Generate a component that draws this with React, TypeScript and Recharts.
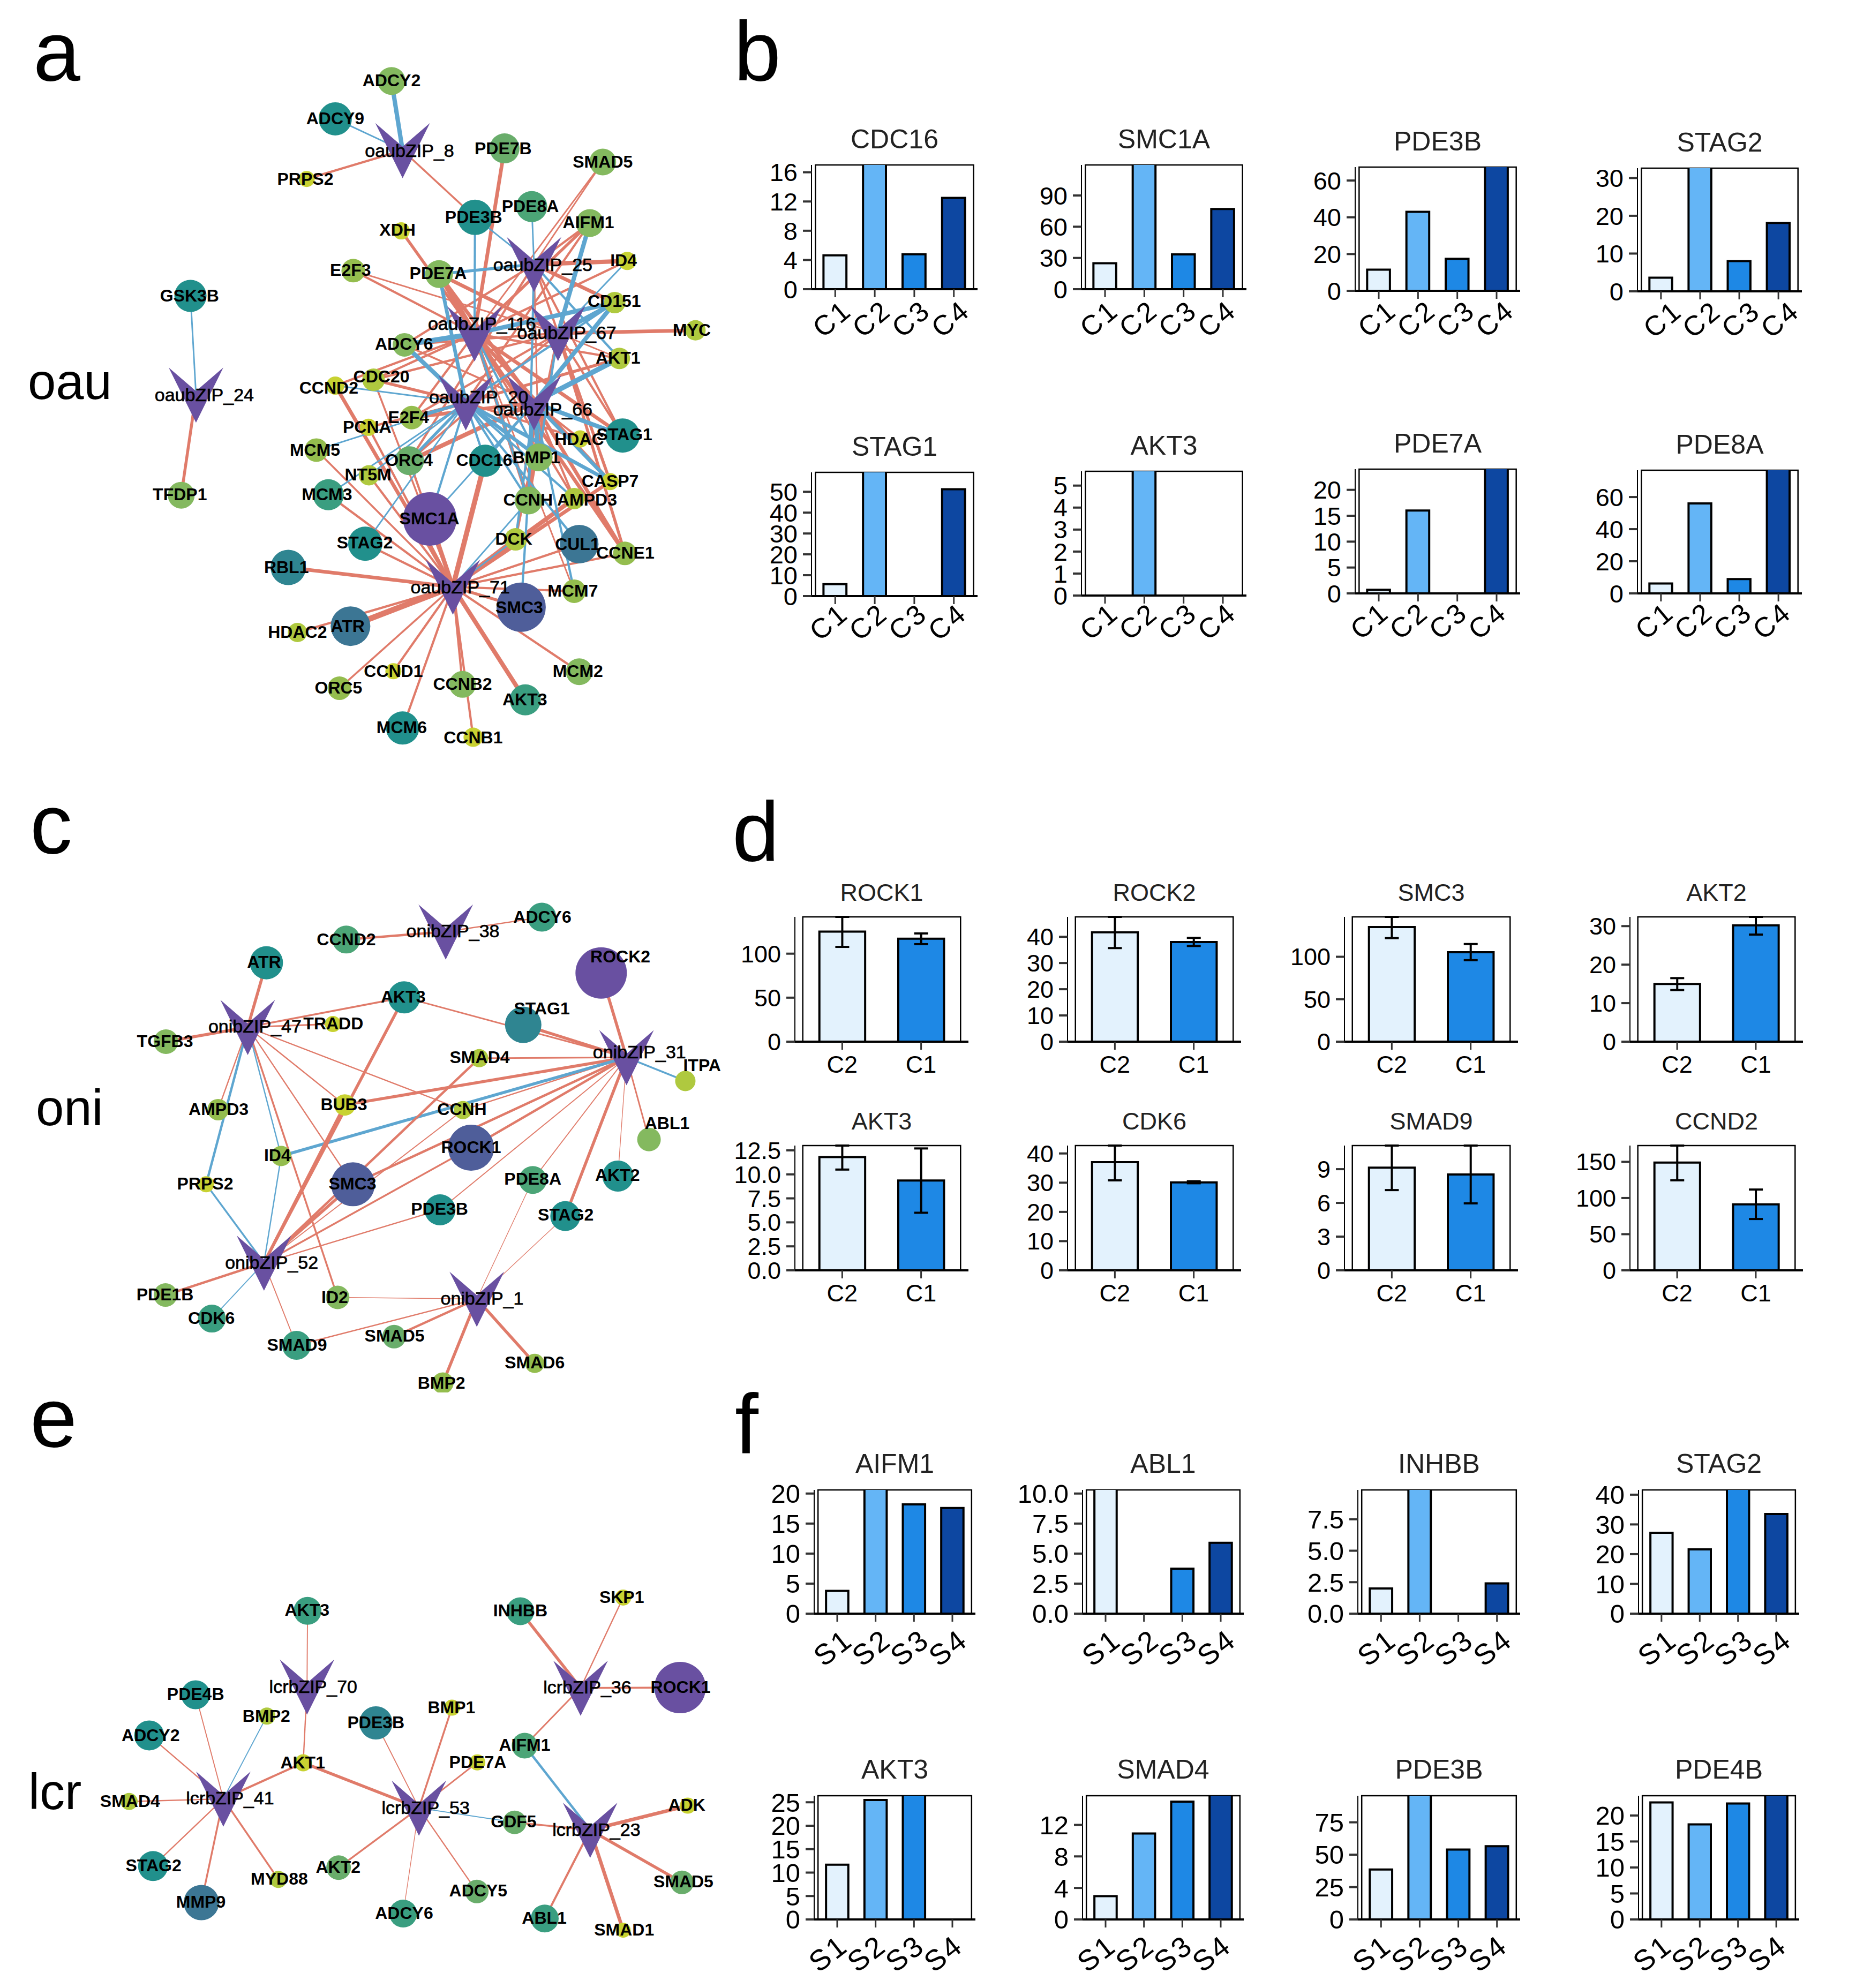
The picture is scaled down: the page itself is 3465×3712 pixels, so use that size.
import React from 'react';
import { BarChart, Bar, Cell, XAxis, YAxis, ReferenceArea, ErrorBar, ScatterChart, Scatter } from 'recharts';

const FONT = '"Liberation Sans", Arial, sans-serif';
const RED = '#e07b6a';
const BLUE = '#5ea6d0';
const PURPLE = '#6950a1';
// node shades, small degree to large degree
const SHADES = ['#c8d232', '#afc93f', '#94bd4e', '#84b95f', '#69ad6b', '#4ca577', '#3a9e80', '#21908c', '#2f8591', '#3c7694', '#4f5e9a', '#6950a1'];
const BLUES4 = ['#e3f2fd', '#64b5f6', '#1e88e5', '#0d47a1'];
const BLUES2 = ['#e3f2fd', '#1e88e5'];

type Gene = [string, number, number, number, number, number, number];
type Tf = [string, number, number, number, number];
type Edge = [string, string, number, string];

// ---- network a (layout units 0-1568 on both axes)
const oauTfs: Tf[] = [
  ['oaubZIP_8', 873, 310, 888, 310], ['oaubZIP_25', 1158, 545, 1177, 545], ['oaubZIP_116', 1029, 688, 1045, 667],
  ['oaubZIP_67', 1210, 687, 1229, 686], ['oaubZIP_20', 1010, 830, 1038, 818], ['oaubZIP_66', 1158, 830, 1177, 844],
  ['oaubZIP_71', 982, 1210, 998, 1210], ['oaubZIP_24', 425, 814, 443, 814],
];
const oauGenes: Gene[] = [
  ['ADCY2', 849, 167, 26, 3, 849, 166], ['ADCY9', 727, 245, 31, 7, 727, 244], ['PRPS2', 665, 369, 15, 0, 662, 369],
  ['PDE7B', 1094, 306, 28, 4, 1091, 306], ['SMAD5', 1307, 334, 25, 3, 1307, 333], ['PDE8A', 1153, 426, 29, 5, 1150, 425],
  ['PDE3B', 1030, 448, 33, 7, 1027, 447], ['XDH', 870, 476, 16, 0, 862, 474], ['AIFM1', 1279, 460, 26, 3, 1276, 458],
  ['E2F3', 766, 558, 22, 2, 760, 556], ['PDE7A', 952, 565, 26, 3, 950, 563], ['ID4', 1360, 538, 17, 0, 1352, 537],
  ['CD151', 1333, 624, 20, 1, 1332, 621], ['MYC', 1508, 681, 19, 1, 1500, 680], ['ADCY6', 877, 711, 22, 3, 876, 709],
  ['AKT1', 1343, 739, 20, 1, 1340, 738], ['CDC20', 810, 783, 21, 1, 827, 776], ['CCND2', 727, 795, 17, 0, 713, 799],
  ['PCNA', 799, 881, 16, 0, 796, 880], ['E2F4', 893, 861, 22, 2, 886, 860], ['MCM5', 686, 928, 22, 2, 683, 928],
  ['ORC4', 888, 950, 27, 4, 887, 948], ['NT5M', 800, 980, 19, 1, 798, 978], ['CDC16', 1052, 950, 30, 7, 1050, 948],
  ['BMP1', 1168, 943, 26, 3, 1163, 943], ['HDAC', 1258, 905, 16, 0, 1256, 905], ['STAG1', 1350, 898, 32, 7, 1354, 896],
  ['MCM3', 712, 1020, 29, 6, 709, 1019], ['CASP7', 1323, 993, 16, 0, 1323, 992], ['CCNH', 1146, 1032, 26, 3, 1145, 1030],
  ['AMPD3', 1245, 1028, 20, 1, 1273, 1030], ['SMC1A', 932, 1070, 50, 11, 931, 1069], ['STAG2', 792, 1121, 32, 7, 791, 1119],
  ['DCK', 1118, 1112, 21, 1, 1114, 1111], ['CUL1', 1256, 1122, 36, 9, 1252, 1122], ['CCNE1', 1355, 1141, 22, 2, 1356, 1140],
  ['RBL1', 625, 1170, 33, 8, 621, 1169], ['SMC3', 1130, 1252, 46, 10, 1126, 1252], ['MCM7', 1245, 1219, 22, 2, 1242, 1218],
  ['ATR', 760, 1291, 37, 9, 754, 1291], ['HDAC2', 645, 1304, 18, 1, 645, 1303], ['CCND1', 853, 1384, 15, 0, 853, 1384],
  ['ORC5', 736, 1419, 22, 2, 734, 1418], ['CCNB2', 1003, 1411, 25, 3, 1003, 1410], ['MCM2', 1256, 1385, 25, 3, 1253, 1384],
  ['AKT3', 1139, 1443, 29, 6, 1138, 1442], ['MCM6', 873, 1501, 31, 7, 871, 1500], ['CCNB1', 1026, 1520, 18, 0, 1026, 1520],
  ['GSK3B', 413, 610, 30, 7, 411, 609], ['TFDP1', 393, 1021, 25, 3, 390, 1019],
];
const oauEdges: Edge[] = [
  ['oaubZIP_24', 'GSK3B', 2, 'b'], ['oaubZIP_24', 'TFDP1', 4, 'r'],
  ['oaubZIP_8', 'ADCY2', 6, 'b'], ['oaubZIP_8', 'ADCY9', 2, 'b'], ['oaubZIP_8', 'PRPS2', 3, 'r'], ['oaubZIP_8', 'PDE3B', 2.5, 'r'],
  ['oaubZIP_71', 'SMC1A', 6, 'r'], ['oaubZIP_71', 'RBL1', 5, 'r'], ['oaubZIP_71', 'ATR', 8, 'r'], ['oaubZIP_71', 'HDAC2', 3, 'r'],
  ['oaubZIP_71', 'CCND1', 3, 'r'], ['oaubZIP_71', 'ORC5', 2.5, 'r'], ['oaubZIP_71', 'CCNB2', 3, 'r'], ['oaubZIP_71', 'MCM6', 3, 'r'],
  ['oaubZIP_71', 'CCNB1', 3, 'r'], ['oaubZIP_71', 'AKT3', 6, 'r'], ['oaubZIP_71', 'MCM2', 3, 'r'], ['oaubZIP_71', 'SMC3', 4, 'r'],
  ['oaubZIP_71', 'MCM7', 3, 'r'], ['oaubZIP_71', 'CCNE1', 3, 'r'], ['oaubZIP_71', 'CUL1', 3, 'r'], ['oaubZIP_71', 'AMPD3', 6, 'r'],
  ['oaubZIP_71', 'DCK', 7, 'r'], ['oaubZIP_71', 'CDC16', 7, 'r'], ['oaubZIP_71', 'STAG2', 3, 'r'], ['oaubZIP_71', 'MCM3', 3, 'r'],
  ['oaubZIP_71', 'MCM5', 2.5, 'r'], ['oaubZIP_71', 'NT5M', 3, 'r'], ['oaubZIP_71', 'CCND2', 5, 'r'], ['oaubZIP_71', 'PCNA', 3, 'r'],
  ['oaubZIP_71', 'CDC20', 2.5, 'r'], ['oaubZIP_71', 'CASP7', 5, 'r'], ['oaubZIP_71', 'ORC4', 3, 'r'], ['oaubZIP_71', 'CCNH', 2, 'b'],
  ['oaubZIP_116', 'PDE7B', 5, 'r'], ['oaubZIP_116', 'XDH', 4, 'r'], ['oaubZIP_116', 'E2F3', 3, 'r'], ['oaubZIP_116', 'AIFM1', 4, 'r'],
  ['oaubZIP_116', 'PDE7A', 7, 'r'], ['oaubZIP_116', 'CDC20', 3, 'r'], ['oaubZIP_116', 'CCND2', 3, 'r'], ['oaubZIP_116', 'AKT1', 3, 'r'],
  ['oaubZIP_116', 'STAG1', 5, 'r'], ['oaubZIP_116', 'CASP7', 5, 'r'], ['oaubZIP_116', 'CCNE1', 5, 'r'], ['oaubZIP_116', 'ID4', 3, 'r'],
  ['oaubZIP_116', 'AMPD3', 3, 'r'], ['oaubZIP_116', 'SMAD5', 2, 'r'], ['oaubZIP_116', 'E2F4', 3, 'r'], ['oaubZIP_116', 'CCNH', 5, 'r'], ['oaubZIP_116', 'MCM7', 2, 'r'],
  ['oaubZIP_67', 'MYC', 5, 'r'], ['oaubZIP_67', 'AKT1', 2, 'r'], ['oaubZIP_67', 'ADCY6', 3, 'r'], ['oaubZIP_67', 'CDC20', 3, 'r'],
  ['oaubZIP_67', 'CASP7', 4, 'r'], ['oaubZIP_67', 'CCNE1', 4, 'r'], ['oaubZIP_67', 'STAG1', 3, 'r'], ['oaubZIP_67', 'PDE7A', 5, 'r'],
  ['oaubZIP_67', 'E2F4', 3, 'r'], ['oaubZIP_67', 'ORC4', 3, 'r'], ['oaubZIP_67', 'E2F3', 2, 'r'], ['oaubZIP_67', 'CCNH', 4, 'r'], ['oaubZIP_67', 'DCK', 3, 'r'],
  ['oaubZIP_25', 'AIFM1', 3, 'r'], ['oaubZIP_25', 'ID4', 6, 'r'], ['oaubZIP_25', 'CD151', 5, 'r'], ['oaubZIP_25', 'SMAD5', 2, 'r'],
  ['oaubZIP_25', 'ADCY6', 3, 'r'], ['oaubZIP_25', 'STAG1', 3, 'r'], ['oaubZIP_25', 'CASP7', 3, 'r'], ['oaubZIP_25', 'BMP1', 2, 'r'], ['oaubZIP_25', 'ORC4', 3, 'r'],
  ['oaubZIP_20', 'CDC20', 4, 'r'], ['oaubZIP_20', 'PCNA', 3, 'r'], ['oaubZIP_20', 'HDAC', 3, 'r'], ['oaubZIP_20', 'E2F4', 5, 'r'], ['oaubZIP_20', 'AIFM1', 3, 'r'], ['oaubZIP_20', 'AKT1', 4, 'r'],
  ['oaubZIP_66', 'ORC4', 6, 'r'], ['oaubZIP_66', 'E2F4', 5, 'r'], ['oaubZIP_66', 'CCNH', 6, 'r'], ['oaubZIP_66', 'AMPD3', 3, 'r'],
  ['oaubZIP_66', 'CCNE1', 5, 'r'], ['oaubZIP_66', 'HDAC', 3, 'r'], ['oaubZIP_66', 'ADCY6', 2.5, 'r'], ['oaubZIP_66', 'CD151', 3, 'r'], ['oaubZIP_66', 'PDE7A', 5, 'r'],
  ['oaubZIP_25', 'PDE3B', 2, 'b'], ['oaubZIP_25', 'PDE8A', 2, 'b'], ['oaubZIP_25', 'PDE7A', 4, 'b'], ['oaubZIP_25', 'AKT1', 3, 'b'], ['oaubZIP_25', 'CCNH', 3, 'b'],
  ['oaubZIP_116', 'PDE3B', 3, 'b'], ['oaubZIP_116', 'ADCY6', 7, 'b'], ['oaubZIP_116', 'CD151', 6, 'b'], ['oaubZIP_116', 'BMP1', 3, 'b'], ['oaubZIP_116', 'CCNH', 3, 'b'],
  ['oaubZIP_67', 'AIFM1', 6, 'b'], ['oaubZIP_67', 'ID4', 2, 'b'], ['oaubZIP_67', 'CD151', 6, 'b'], ['oaubZIP_67', 'BMP1', 3, 'b'],
  ['oaubZIP_20', 'PDE7A', 5, 'b'], ['oaubZIP_20', 'ADCY6', 6, 'b'], ['oaubZIP_20', 'CCND2', 2, 'b'], ['oaubZIP_20', 'E2F4', 4, 'b'], ['oaubZIP_20', 'CD151', 3, 'b'],
  ['oaubZIP_20', 'MCM5', 2, 'b'], ['oaubZIP_20', 'ORC4', 4, 'b'], ['oaubZIP_20', 'NT5M', 2, 'b'], ['oaubZIP_20', 'MCM3', 2, 'b'],
  ['oaubZIP_20', 'STAG2', 2, 'b'], ['oaubZIP_20', 'SMC1A', 3, 'b'], ['oaubZIP_20', 'CDC16', 3, 'b'], ['oaubZIP_20', 'BMP1', 5, 'b'],
  ['oaubZIP_20', 'CCNH', 3, 'b'], ['oaubZIP_20', 'CASP7', 5, 'b'], ['oaubZIP_20', 'AMPD3', 3, 'b'], ['oaubZIP_20', 'CUL1', 3, 'b'],
  ['oaubZIP_66', 'AKT1', 7, 'b'], ['oaubZIP_66', 'CD151', 6, 'b'], ['oaubZIP_66', 'STAG1', 6, 'b'], ['oaubZIP_66', 'CASP7', 5, 'b'],
  ['oaubZIP_66', 'BMP1', 6, 'b'], ['oaubZIP_66', 'DCK', 3, 'b'], ['oaubZIP_66', 'MCM7', 3, 'b'], ['oaubZIP_66', 'SMC3', 3, 'b'],
  ['oaubZIP_66', 'CDC16', 3, 'b'], ['oaubZIP_66', 'SMC1A', 2, 'b'], ['oaubZIP_71', 'DCK', 2, 'b'],
];

// ---- network c
const oniTfs: Tf[] = [
  ['onibZIP_38', 932, 395, 947, 393], ['onibZIP_47', 518, 638, 533, 636], ['onibZIP_31', 1310, 715, 1337, 701],
  ['onibZIP_52', 552, 1238, 568, 1237], ['onibZIP_1', 997, 1330, 1008, 1328],
];
const oniGenes: Gene[] = [
  ['CCND2', 724, 415, 26, 5, 724, 414], ['ADCY6', 1133, 358, 27, 6, 1134, 357], ['ATR', 557, 474, 31, 7, 552, 472],
  ['ROCK2', 1257, 500, 48, 11, 1297, 458], ['AKT3', 845, 562, 30, 7, 843, 560], ['STAG1', 1094, 632, 34, 8, 1133, 590],
  ['TGFB3', 347, 675, 23, 3, 345, 674], ['TRADD', 696, 630, 15, 0, 697, 629], ['SMAD4', 1002, 717, 17, 1, 1003, 714],
  ['ITPA', 1433, 775, 19, 1, 1468, 735], ['AMPD3', 456, 848, 20, 2, 457, 847], ['BUB3', 721, 836, 20, 0, 719, 834],
  ['CCNH', 968, 849, 17, 1, 966, 847], ['ABL1', 1357, 924, 22, 3, 1395, 882], ['ROCK1', 985, 945, 43, 10, 985, 943],
  ['ID4', 588, 966, 19, 2, 580, 964], ['SMC3', 738, 1038, 41, 10, 737, 1036], ['PRPS2', 431, 1038, 15, 0, 429, 1036],
  ['PDE8A', 1114, 1027, 26, 5, 1114, 1024], ['AKT2', 1292, 1017, 29, 7, 1291, 1015], ['PDE3B', 920, 1103, 29, 7, 919, 1100],
  ['STAG2', 1182, 1119, 28, 7, 1183, 1116], ['PDE1B', 346, 1320, 22, 3, 345, 1318], ['ID2', 706, 1326, 22, 3, 700, 1325],
  ['CDK6', 443, 1380, 26, 6, 442, 1378], ['SMAD9', 620, 1448, 27, 6, 621, 1446], ['SMAD5', 824, 1426, 22, 4, 825, 1424],
  ['SMAD6', 1118, 1494, 18, 2, 1118, 1491], ['BMP2', 926, 1544, 20, 2, 923, 1543],
];
const oniEdges: Edge[] = [
  ['onibZIP_38', 'CCND2', 4, 'r'], ['onibZIP_38', 'ADCY6', 2, 'r'],
  ['onibZIP_47', 'ATR', 5, 'r'], ['onibZIP_47', 'TGFB3', 5, 'r'], ['onibZIP_47', 'AKT3', 3, 'r'], ['onibZIP_47', 'TRADD', 2.5, 'r'],
  ['onibZIP_47', 'AMPD3', 2, 'r'], ['onibZIP_47', 'CCNH', 2, 'r'], ['onibZIP_47', 'BUB3', 2, 'r'], ['onibZIP_47', 'SMC3', 2, 'r'],
  ['onibZIP_47', 'ID2', 3, 'r'], ['onibZIP_47', 'ID4', 2, 'b'], ['onibZIP_47', 'PRPS2', 4, 'b'],
  ['onibZIP_31', 'ROCK2', 5, 'r'], ['onibZIP_31', 'STAG1', 5, 'r'], ['onibZIP_31', 'AKT3', 2.5, 'r'], ['onibZIP_31', 'SMAD4', 2.5, 'r'],
  ['onibZIP_31', 'ITPA', 3, 'b'], ['onibZIP_31', 'ABL1', 2.5, 'r'], ['onibZIP_31', 'AKT2', 1, 'r'], ['onibZIP_31', 'STAG2', 5, 'r'],
  ['onibZIP_31', 'PDE8A', 1.5, 'r'], ['onibZIP_31', 'PDE3B', 1.5, 'r'], ['onibZIP_31', 'ROCK1', 4, 'r'], ['onibZIP_31', 'BUB3', 5, 'r'],
  ['onibZIP_31', 'CCNH', 2, 'r'], ['onibZIP_31', 'SMC3', 4, 'r'], ['onibZIP_31', 'ID4', 5, 'b'],
  ['onibZIP_52', 'AKT3', 5, 'r'], ['onibZIP_52', 'BUB3', 5, 'r'], ['onibZIP_52', 'PRPS2', 3, 'b'], ['onibZIP_52', 'ID4', 2, 'b'],
  ['onibZIP_52', 'SMAD4', 4, 'r'], ['onibZIP_52', 'SMC3', 5, 'r'], ['onibZIP_52', 'ROCK1', 3, 'r'], ['onibZIP_52', 'CCNH', 1.5, 'r'],
  ['onibZIP_52', 'PDE3B', 2, 'r'], ['onibZIP_52', 'PDE1B', 4, 'r'], ['onibZIP_52', 'CDK6', 1.5, 'b'], ['onibZIP_52', 'SMAD9', 1.5, 'r'],
  ['onibZIP_1', 'ID2', 1, 'r'], ['onibZIP_1', 'PDE8A', 1, 'r'], ['onibZIP_1', 'STAG2', 1, 'r'], ['onibZIP_1', 'SMAD5', 4, 'r'],
  ['onibZIP_1', 'SMAD9', 2, 'r'], ['onibZIP_1', 'SMAD6', 5, 'r'], ['onibZIP_1', 'BMP2', 5, 'r'],
];

// ---- network e
const lcrTfs: Tf[] = [
  ['lcrbZIP_70', 642, 775, 655, 774], ['lcrbZIP_36', 1214, 778, 1228, 776], ['lcrbZIP_41', 467, 1070, 481, 1068],
  ['lcrbZIP_53', 876, 1094, 890, 1093], ['lcrbZIP_23', 1234, 1152, 1247, 1150],
];
const lcrGenes: Gene[] = [
  ['AKT3', 643, 575, 26, 6, 642, 573], ['INHBB', 1088, 576, 26, 6, 1088, 574], ['SKP1', 1303, 540, 15, 0, 1300, 538],
  ['ROCK1', 1422, 777, 48, 11, 1423, 775], ['PDE4B', 409, 796, 27, 7, 409, 794], ['BMP2', 558, 852, 16, 1, 557, 851],
  ['BMP1', 945, 830, 15, 0, 944, 829], ['PDE3B', 786, 870, 31, 8, 786, 868], ['ADCY2', 312, 903, 28, 7, 315, 902],
  ['AIFM1', 1097, 930, 24, 5, 1097, 928], ['PDE7A', 998, 974, 15, 0, 999, 973], ['AKT1', 634, 975, 16, 0, 633, 974],
  ['SMAD4', 270, 1077, 16, 1, 272, 1076], ['GDF5', 1076, 1132, 22, 4, 1074, 1130], ['ADK', 1438, 1088, 15, 0, 1436, 1086],
  ['STAG2', 320, 1247, 28, 7, 321, 1245], ['AKT2', 708, 1251, 23, 4, 707, 1249], ['MYD88', 582, 1282, 16, 1, 584, 1280],
  ['SMAD5', 1426, 1290, 22, 4, 1429, 1287], ['ADCY5', 997, 1314, 22, 4, 1000, 1311], ['MMP9', 421, 1343, 33, 9, 420, 1341],
  ['ADCY6', 843, 1372, 26, 6, 845, 1370], ['ABL1', 1139, 1385, 26, 6, 1138, 1383], ['SMAD1', 1303, 1416, 14, 0, 1305, 1414],
];
const lcrEdges: Edge[] = [
  ['lcrbZIP_70', 'AKT3', 1.5, 'r'], ['lcrbZIP_70', 'AKT1', 2, 'r'],
  ['lcrbZIP_36', 'INHBB', 5, 'r'], ['lcrbZIP_36', 'SKP1', 2, 'r'], ['lcrbZIP_36', 'ROCK1', 3, 'r'], ['lcrbZIP_36', 'AIFM1', 2.5, 'r'],
  ['lcrbZIP_41', 'PDE4B', 1.5, 'r'], ['lcrbZIP_41', 'ADCY2', 2, 'r'], ['lcrbZIP_41', 'BMP2', 1.5, 'b'], ['lcrbZIP_41', 'SMAD4', 2, 'r'],
  ['lcrbZIP_41', 'AKT1', 3.5, 'r'], ['lcrbZIP_41', 'STAG2', 2, 'r'], ['lcrbZIP_41', 'MMP9', 3, 'r'], ['lcrbZIP_41', 'MYD88', 3, 'r'],
  ['lcrbZIP_53', 'AKT1', 5, 'r'], ['lcrbZIP_53', 'PDE3B', 1.5, 'r'], ['lcrbZIP_53', 'BMP1', 3, 'r'], ['lcrbZIP_53', 'PDE7A', 2.5, 'r'],
  ['lcrbZIP_53', 'GDF5', 1.5, 'b'], ['lcrbZIP_53', 'AKT2', 3, 'r'], ['lcrbZIP_53', 'ADCY6', 1, 'r'], ['lcrbZIP_53', 'ADCY5', 2, 'r'],
  ['lcrbZIP_23', 'AIFM1', 4, 'b'], ['lcrbZIP_23', 'GDF5', 3, 'r'], ['lcrbZIP_23', 'ADK', 6, 'r'], ['lcrbZIP_23', 'SMAD5', 5, 'r'],
  ['lcrbZIP_23', 'SMAD1', 6, 'r'], ['lcrbZIP_23', 'ABL1', 3.5, 'r'],
];

// ---- bar panels
const clusters4 = ['C1', 'C2', 'C3', 'C4'];
const clusters2 = ['C2', 'C1'];
const samples4 = ['S1', 'S2', 'S3', 'S4'];

const bTitles = ['CDC16', 'SMC1A', 'PDE3B', 'STAG2', 'STAG1', 'AKT3', 'PDE7A', 'PDE8A'];
const bValues = [
  [4.63, 20, 4.78, 12.5], [25, 140, 33.4, 77], [11.5, 43, 17.4, 90], [3.6, 40, 8, 18.1],
  [5.7, 70, 0, 51.2], [0, 7, 0, 0], [0.7, 16, 0, 30], [6.2, 56, 8.9, 90],
];
const bTicks = [
  [0, 4, 8, 12, 16], [0, 30, 60, 90], [0, 20, 40, 60], [0, 10, 20, 30],
  [0, 10, 20, 30, 40, 50], [0, 1, 2, 3, 4, 5], [0, 5, 10, 15, 20], [0, 20, 40, 60],
];
const bTops = [17, 119.3, 67.3, 32.6, 59.3, 5.65, 24, 76.7];
const bFrames = [
  [1515, 308, 310, 232], [2019, 308, 308, 232], [2530, 312, 308, 231], [3057, 314, 307, 230],
  [1515, 882, 310, 231], [2019, 880, 308, 232], [2530, 876, 308, 232], [3057, 878, 307, 230],
];
const bLabelDx = [-6, -11, -3, 3, -12, -11, -17, -12];
const bLabelDy = [55, 55, 52, 52, 48, 48, 51, 51];

const dTitles = ['ROCK1', 'ROCK2', 'SMC3', 'AKT2', 'AKT3', 'CDK6', 'SMAD9', 'CCND2'];
const dValues = [[125, 117], [41.75, 38], [135, 105.4], [15, 30.2], [11.8, 9.36], [37, 30.1], [9.13, 8.53], [149, 91.3]];
const dLows = [[107.7, 110.8], [35.7, 36.5], [122, 96], [13.4, 27.8], [10.5, 6], [30.8, 29.8], [7.14, 5.96], [124.5, 71]];
const dHighs = [[142.3, 123], [47.8, 39.6], [148, 115], [16.5, 32.6], [13.1, 12.7], [43.2, 30.5], [11.12, 11.1], [173.5, 111.7]];
const dTicks = [
  [0, 50, 100], [0, 10, 20, 30, 40], [0, 50, 100], [0, 10, 20, 30],
  [0, 2.5, 5, 7.5, 10, 12.5], [0, 10, 20, 30, 40], [0, 3, 6, 9], [0, 50, 100, 150],
];
const dTickText = [null, null, null, null, ['0.0', '2.5', '5.0', '7.5', '10.0', '12.5'], null, null, null];
const dTops = [141.8, 47.6, 147, 32.4, 13, 42.7, 11.1, 172.5];
const dColumns = [[1484, 324], [1993, 324], [2510, 324], [3043, 323]];
const dRows = [1712, 2139];

const fTitles = ['AIFM1', 'ABL1', 'INHBB', 'STAG2', 'AKT3', 'SMAD4', 'PDE3B', 'PDE4B'];
const fValues = [
  [3.8, 25, 18.2, 17.6], [12, 0, 3.75, 5.9], [2, 12, 0, 2.4], [27.2, 21.6, 50, 33.5],
  [11.7, 25.5, 30, 0], [2.95, 10.9, 14.95, 18], [38.6, 110, 54, 56.5], [22.5, 18.3, 22.3, 28],
];
const fTicks = [
  [0, 5, 10, 15, 20], [0, 2.5, 5, 7.5, 10], [0, 2.5, 5, 7.5], [0, 10, 20, 30, 40],
  [0, 5, 10, 15, 20, 25], [0, 4, 8, 12], [0, 25, 50, 75], [0, 5, 10, 15, 20],
];
const fTickText = [null, ['0.0', '2.5', '5.0', '7.5', '10.0'], ['0.0', '2.5', '5.0', '7.5'], null, null, null, null, null];
const fTops = [20.6, 10.3, 9.83, 41.6, 26.4, 15.7, 95.5, 23.8];
const fColumns = [[1520, 301], [2021, 301], [2535, 303], [3059, 300]];
const fRows = [2782, 3353];

const panelLetters: [string, number, number][] = [['a', 62, 150], ['b', 1370, 150], ['c', 56, 1593], ['d', 1367, 1607], ['e', 56, 2701], ['f', 1372, 2713]];
const speciesNames: [string, number, number][] = [['oau', 52, 745], ['oni', 67, 2101], ['lcr', 53, 3378]];

function vee(props: any) {
  const { cx, cy } = props;
  return <polygon points={`${cx - 51},${cy - 51} ${cx},${cy - 7} ${cx + 51},${cy - 51} ${cx},${cy + 52}`} fill={PURPLE} />;
}

function Network({ left, top, width, height, tfs, genes, edges, edgeScale }: { left: number; top: number; width: number; height: number; tfs: Tf[]; genes: Gene[]; edges: Edge[]; edgeScale: number }) {
  const where: Record<string, { x: number; y: number }> = {};
  tfs.forEach((t) => { where[t[0]] = { x: t[1], y: t[2] }; });
  genes.forEach((g) => { where[g[0]] = { x: g[1], y: g[2] }; });
  const geneData = genes.map((g) => ({ x: g[1], y: g[2], r: g[3], fill: SHADES[g[4]] }));
  const tfData = tfs.map((t) => ({ x: t[1], y: t[2] }));
  const labels = [
    ...genes.map((g) => ({ x: g[5], y: g[6], name: g[0], tf: false })),
    ...tfs.map((t) => ({ x: t[3], y: t[4], name: t[0], tf: true })),
  ];
  return (
    <div style={{ position: 'absolute', left, top }}>
      <ScatterChart width={width} height={height} margin={{ top: 0, right: 0, bottom: 0, left: 0 }}>
        <XAxis type="number" dataKey="x" domain={[0, 1568]} hide allowDataOverflow />
        <YAxis type="number" dataKey="y" domain={[0, 1568]} reversed hide allowDataOverflow />
        {edges.map((e, i) => (
          <Scatter
            key={i}
            data={[where[e[0]], where[e[1]]]}
            line={{ stroke: e[3] === 'b' ? BLUE : RED, strokeWidth: e[2] * edgeScale + 0.3 }}
            shape={() => <g />}
            isAnimationActive={false}
          />
        ))}
        <Scatter
          data={geneData}
          isAnimationActive={false}
          shape={(p: any) => <circle cx={p.cx} cy={p.cy} r={p.payload.r} fill={p.payload.fill} />}
        />
        <Scatter data={tfData} isAnimationActive={false} shape={vee} />
        <Scatter
          data={labels}
          isAnimationActive={false}
          shape={(p: any) => (
            <text
              x={p.cx}
              y={p.cy}
              textAnchor="middle"
              dominantBaseline="central"
              fontFamily={FONT}
              fontSize={p.payload.tf ? 34 : 32}
              fontWeight={p.payload.tf ? 400 : 700}
              stroke={p.payload.tf ? '#000' : 'none'}
              strokeWidth={p.payload.tf ? 0.7 : 0}
              fill="#000"
            >
              {p.payload.name}
            </text>
          )}
        />
      </ScatterChart>
    </div>
  );
}

function BarPanel({ frame, cats, colors, values, lows, highs, ticks, tickText, top, fontSize, labelDx, labelDy, angle, labelSpacing, barStroke }: any) {
  const [x, y, w, h] = frame;
  const leftRoom = 140;
  const topRoom = 20;
  const axisRoom = 150;
  const tickLen = 15;
  const step = w / (cats.length + 0.2);
  const data = cats.map((c: string, i: number) => ({
    name: c,
    value: values[i],
    // whiskers stop at the frame, the plot is cut there
    err: lows ? [values[i] - lows[i], Math.min(highs[i], top) - values[i]] : undefined,
  }));
  const fmt = (v: number) => (tickText ? tickText[ticks.indexOf(v)] : String(v));
  return (
    <div style={{ position: 'absolute', left: x - leftRoom, top: y - topRoom }}>
      <BarChart width={w + leftRoom + 20} height={h + topRoom + axisRoom} data={data} margin={{ top: topRoom, right: 20, bottom: 0, left: 0 }}>
        <XAxis
          dataKey="name"
          height={axisRoom}
          padding={{ left: step * 0.1, right: step * 0.1 }}
          axisLine={{ stroke: '#000', strokeWidth: 4 }}
          tickLine={{ stroke: '#333', strokeWidth: 3 }}
          tickSize={tickLen}
          tickMargin={0}
          interval={0}
          tick={(p: any) => (
            <text
              x={p.x + labelDx}
              y={p.y - tickLen + labelDy}
              textAnchor="middle"
              dominantBaseline="central"
              fontFamily={FONT}
              fontSize={angle ? fontSize + 5 : fontSize}
              letterSpacing={labelSpacing}
              fill="#000"
              transform={`rotate(${angle} ${p.x + labelDx} ${p.y - tickLen + labelDy})`}
            >
              {p.payload.value}
            </text>
          )}
        />
        <YAxis
          type="number"
          width={leftRoom}
          domain={[0, top]}
          ticks={ticks}
          interval={0}
          allowDataOverflow
          axisLine={{ stroke: '#000', strokeWidth: 2 }}
          tickLine={{ stroke: '#333', strokeWidth: 4 }}
          tickSize={16}
          tickMargin={10}
          tickFormatter={fmt}
          tick={{ fontFamily: FONT, fontSize, fill: '#000' }}
        />
        <ReferenceArea y1={0} y2={top} fill="none" stroke="#000" strokeWidth={2.5} ifOverflow="visible" />
        <Bar dataKey="value" barSize={step * 0.58} stroke="#000" strokeWidth={barStroke} isAnimationActive={false}>
          {cats.map((c: string, i: number) => <Cell key={c} fill={colors[i]} />)}
          {lows ? <ErrorBar dataKey="err" width={13} strokeWidth={4} stroke="#000" direction="y" /> : null}
        </Bar>
      </BarChart>
    </div>
  );
}

export default function App() {
  const titleItems: { t: string; x: number; y: number; s: number }[] = [];
  const panels: React.ReactNode[] = [];

  bTitles.forEach((t, i) => {
    const f = bFrames[i];
    titleItems.push({ t, x: f[0] + f[2] / 2, y: f[1] - 48, s: 50 });
    panels.push(
      <BarPanel key={'b' + i} frame={f} cats={clusters4} colors={BLUES4} values={bValues[i]} ticks={bTicks[i]} top={bTops[i]}
        fontSize={47} labelDx={bLabelDx[i]} labelDy={bLabelDy[i]} angle={-40} labelSpacing={4} barStroke={4} />
    );
  });
  dTitles.forEach((t, i) => {
    const c = dColumns[i % 4];
    const f = [c[0], dRows[Math.floor(i / 4)], c[1], 233];
    titleItems.push({ t, x: f[0] + f[2] / 2, y: f[1] - 46, s: 45 });
    panels.push(
      <BarPanel key={'d' + i} frame={f} cats={clusters2} colors={BLUES2} values={dValues[i]} lows={dLows[i]} highs={dHighs[i]} ticks={dTicks[i]}
        tickText={dTickText[i]} top={dTops[i]} fontSize={45} labelDx={0} labelDy={42} angle={0} labelSpacing={0} barStroke={4} />
    );
  });
  fTitles.forEach((t, i) => {
    const c = fColumns[i % 4];
    const f = [c[0], fRows[Math.floor(i / 4)], c[1], 231];
    titleItems.push({ t, x: f[0] + f[2] / 2, y: f[1] - 49, s: 50 });
    panels.push(
      <BarPanel key={'f' + i} frame={f} cats={samples4} colors={BLUES4} values={fValues[i]} ticks={fTicks[i]} tickText={fTickText[i]} top={fTops[i]}
        fontSize={49} labelDx={i < 4 ? -8 : -17} labelDy={63} angle={-38} labelSpacing={4} barStroke={4} />
    );
  });

  return (
    <div style={{ position: 'absolute', left: 0, top: 0, width: 3465, height: 3712, background: '#fff', overflow: 'hidden' }}>
      <Network left={0} top={0} width={1350} height={1420} tfs={oauTfs} genes={oauGenes} edges={oauEdges} edgeScale={1.3} />
      <Network left={0} top={1450} width={1400} height={1150} tfs={oniTfs} genes={oniGenes} edges={oniEdges} edgeScale={1.05} />
      <Network left={0} top={2600} width={1400} height={1112} tfs={lcrTfs} genes={lcrGenes} edges={lcrEdges} edgeScale={1.05} />
      {panels}
      <svg width={3465} height={3712} style={{ position: 'absolute', left: 0, top: 0, pointerEvents: 'none' }}>
        {panelLetters.map(([t, x, y]) => (
          <text key={t} x={x} y={y} fontFamily={FONT} fontSize={158} fill="#000">{t}</text>
        ))}
        {speciesNames.map(([t, x, y]) => (
          <text key={t} x={x} y={y} fontFamily={FONT} fontSize={94} fill="#000">{t}</text>
        ))}
        {titleItems.map((d, i) => (
          <text key={i} x={d.x} y={d.y} textAnchor="middle" dominantBaseline="central" fontFamily={FONT} fontSize={d.s} fill="#222">{d.t}</text>
        ))}
      </svg>
    </div>
  );
}
